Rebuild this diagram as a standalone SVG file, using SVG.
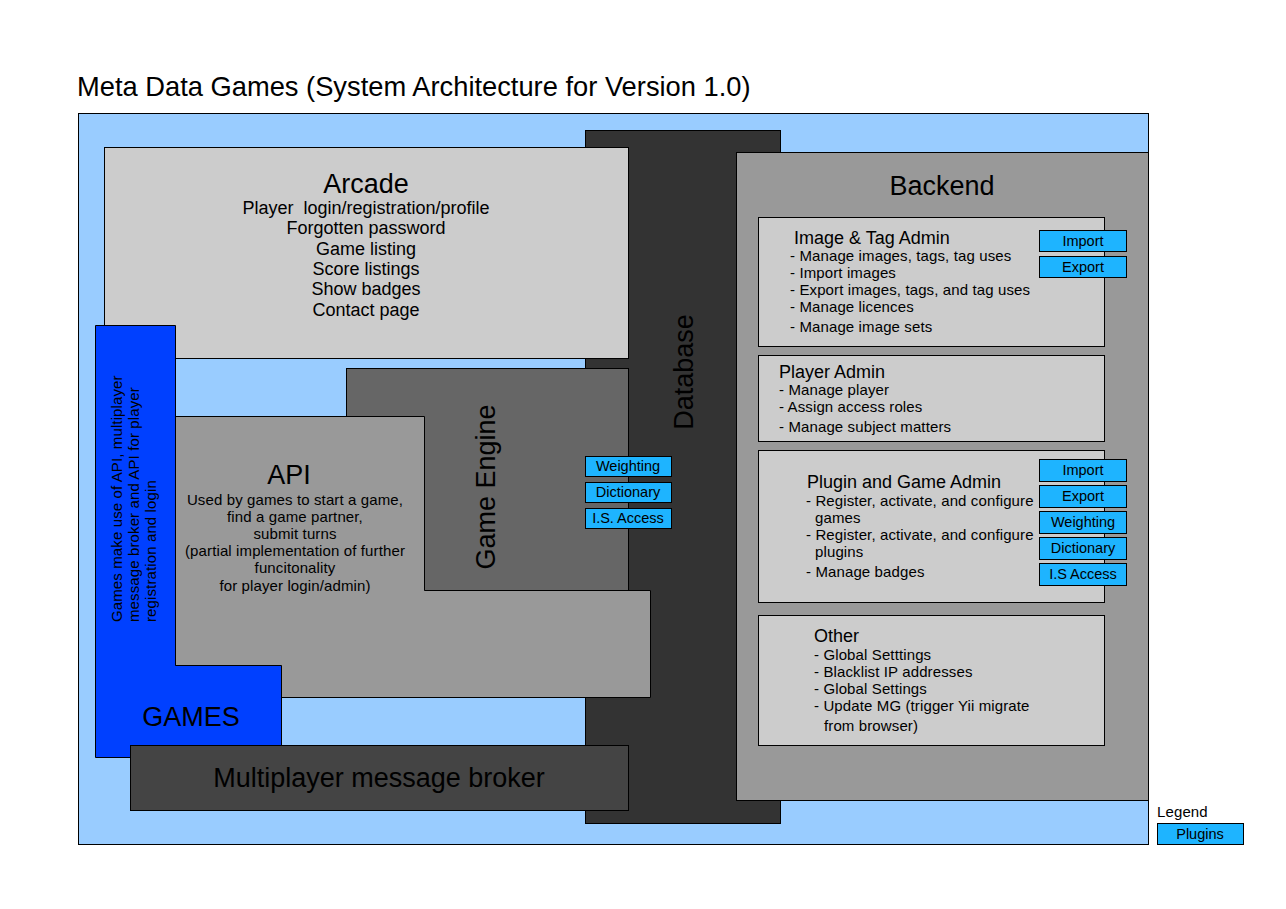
<svg xmlns="http://www.w3.org/2000/svg" width="1286" height="909" viewBox="0 0 1286 909">
<style>
.b{stroke:#000;stroke-width:1}
text{font-family:"Liberation Sans",Arial,Helvetica,sans-serif;fill:#000}
.h{font-size:27px}
.t{font-size:27.3px}
.m{font-size:18px}
.s{font-size:15px;letter-spacing:0.12px}
.p{font-size:14.5px;text-anchor:middle}
.c{text-anchor:middle}
.plug{fill:#1eb4ff;stroke:#000;stroke-width:1}
</style>
<rect x="0" y="0" width="1286" height="909" fill="#fff"/>
<text class="t" x="77" y="96">Meta Data Games (System Architecture for Version 1.0)</text>

<g id="system">
<rect class="b" x="78.5" y="113.5" width="1070" height="731" fill="#99ccff"/>
</g>

<g id="database">
<rect class="b" x="585.5" y="130.5" width="195" height="693" fill="#333333"/>
<text class="h c" transform="translate(693,372) rotate(-90)">Database</text>
</g>

<g id="arcade">
<rect class="b" x="104.5" y="147.5" width="524" height="211" fill="#cccccc"/>
<text class="h c" x="366" y="193">Arcade</text>
<text class="m c" x="366" y="214" xml:space="preserve">Player  login/registration/profile</text>
<text class="m c" x="366" y="234">Forgotten password</text>
<text class="m c" x="366" y="255">Game listing</text>
<text class="m c" x="366" y="275">Score listings</text>
<text class="m c" x="366" y="295">Show badges</text>
<text class="m c" x="366" y="316">Contact page</text>
</g>

<g id="backend">
<rect class="b" x="736.5" y="152.5" width="412" height="648" fill="#999999"/>
<text class="h c" x="942" y="195">Backend</text>
</g>

<g id="image-tag-admin">
<rect class="b" x="758.5" y="217.5" width="346" height="129" fill="#cccccc"/>
<text class="m" x="794" y="244">Image &amp; Tag Admin</text>
<text class="s" x="790" y="261">- Manage images, tags, tag uses</text>
<text class="s" x="790" y="278">- Import images</text>
<text class="s" x="790" y="295">- Export images, tags, and tag uses</text>
<text class="s" x="790" y="312">- Manage licences</text>
<text class="s" x="790" y="332">- Manage image sets</text>
<rect class="plug" x="1039.5" y="230.5" width="87" height="21"/>
<text class="p" x="1083" y="246">Import</text>
<rect class="plug" x="1039.5" y="256.5" width="87" height="21"/>
<text class="p" x="1083" y="272">Export</text>
</g>

<g id="player-admin">
<rect class="b" x="758.5" y="355.5" width="346" height="86" fill="#cccccc"/>
<text class="m" x="779" y="378">Player Admin</text>
<text class="s" x="779" y="395">- Manage player</text>
<text class="s" x="779" y="412">- Assign access roles</text>
<text class="s" x="779" y="432">- Manage subject matters</text>
</g>

<g id="plugin-game-admin">
<rect class="b" x="758.5" y="450.5" width="346" height="152" fill="#cccccc"/>
<text class="m" x="807" y="488">Plugin and Game Admin</text>
<text class="s" x="806" y="506">- Register, activate, and configure</text>
<text class="s" x="815" y="523">games</text>
<text class="s" x="806" y="540">- Register, activate, and configure</text>
<text class="s" x="815" y="557">plugins</text>
<text class="s" x="806" y="577">- Manage badges</text>
<rect class="plug" x="1039.5" y="459.5" width="87" height="22"/>
<text class="p" x="1083" y="475">Import</text>
<rect class="plug" x="1039.5" y="485.5" width="87" height="22"/>
<text class="p" x="1083" y="501">Export</text>
<rect class="plug" x="1039.5" y="511.5" width="87" height="22"/>
<text class="p" x="1083" y="527">Weighting</text>
<rect class="plug" x="1039.5" y="537.5" width="87" height="22"/>
<text class="p" x="1083" y="553">Dictionary</text>
<rect class="plug" x="1039.5" y="563.5" width="87" height="22"/>
<text class="p" x="1083" y="579">I.S Access</text>
</g>

<g id="other">
<rect class="b" x="758.5" y="615.5" width="346" height="130" fill="#cccccc"/>
<text class="m" x="814" y="642">Other</text>
<text class="s" x="814" y="660">- Global Setttings</text>
<text class="s" x="814" y="677">- Blacklist IP addresses</text>
<text class="s" x="814" y="694">- Global Settings</text>
<text class="s" x="814" y="711">- Update MG (trigger Yii migrate</text>
<text class="s" x="824" y="731">from browser)</text>
</g>

<g id="game-engine">
<rect class="b" x="346.5" y="368.5" width="282" height="222" fill="#666666"/>
<text class="h c" transform="translate(495,487) rotate(-90)">Game Engine</text>
</g>

<g id="api">
<path class="b" d="M175.5 416.5 H424.5 V590.5 H650.5 V697.5 H175.5 Z" fill="#999999"/>
<text class="h c" x="289" y="484">API</text>
<text class="s c" x="295" y="505">Used by games to start a game,</text>
<text class="s c" x="295" y="522">find a game partner,</text>
<text class="s c" x="295" y="539">submit turns</text>
<text class="s c" x="295" y="556">(partial implementation of further</text>
<text class="s c" x="295" y="573">funcitonality</text>
<text class="s c" x="295" y="591">for player login/admin)</text>
</g>

<g id="games">
<path class="b" d="M95.5 325.5 H175.5 V665.5 H281.5 V757.5 H95.5 Z" fill="#0040ff"/>
<text class="h c" x="191" y="726">GAMES</text>
<text class="s" transform="translate(122,622) rotate(-90)"><tspan x="0" y="0">Games make use of API, multiplayer</tspan><tspan x="0" y="17">message broker and API for player</tspan><tspan x="0" y="34">registration and login</tspan></text>
</g>

<g id="message-broker">
<rect class="b" x="130.5" y="745.5" width="498" height="65" fill="#444444"/>
<text class="h c" x="379" y="787">Multiplayer message broker</text>
</g>

<g id="engine-plugins">
<rect class="plug" x="585.5" y="456.5" width="86" height="20"/>
<text class="p" x="628" y="471">Weighting</text>
<rect class="plug" x="585.5" y="482.5" width="86" height="20"/>
<text class="p" x="628" y="497">Dictionary</text>
<rect class="plug" x="585.5" y="508.5" width="86" height="20"/>
<text class="p" x="628" y="523">I.S. Access</text>
</g>

<g id="legend">
<text class="s" x="1157" y="817">Legend</text>
<rect class="plug" x="1157.5" y="823.5" width="86" height="21"/>
<text class="p" x="1200" y="839">Plugins</text>
</g>

<g id="connectors"></g>
</svg>
